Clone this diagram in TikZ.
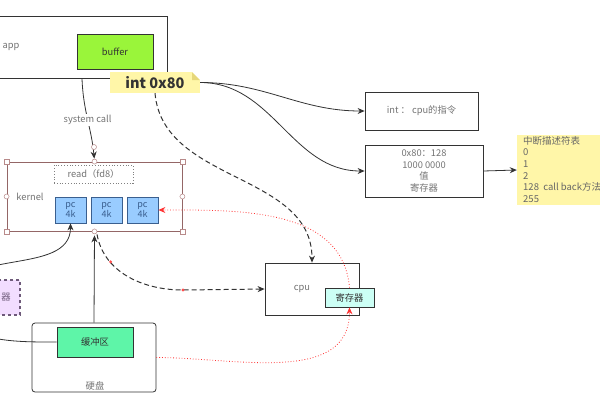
\documentclass[tikz,border=0pt]{standalone}
\usepackage{fontspec}
\setmainfont{Noto Sans CJK SC}
\usetikzlibrary{arrows.meta}

\definecolor{buffergreen}{HTML}{9AF53A}
\definecolor{notey}{HTML}{FFF6A8}
\definecolor{notefold}{HTML}{E6D77A}
\definecolor{pcblue}{HTML}{99CCFF}
\definecolor{pcedge}{HTML}{3A5F8F}
\definecolor{mint}{HTML}{5EF5A8}
\definecolor{regcyan}{HTML}{CCFFF5}
\definecolor{lilac}{HTML}{F2DDFF}
\definecolor{lilacedge}{HTML}{6E5A7A}
\definecolor{handle}{HTML}{B88A8A}
\definecolor{ink}{HTML}{333333}

\begin{document}
\begin{tikzpicture}[x=1pt,y=-1pt,
  box/.style={draw=ink,line width=0.8pt,inner sep=0pt,text=black!55,
    font=\fontsize{9.3}{11.7}\selectfont,align=center},
  pcbox/.style={box,fill=pcblue,draw=pcedge,minimum width=31pt,minimum height=26pt,
    text=pcedge,font=\fontsize{9}{10}\selectfont},
  label/.style={text=black!55,font=\fontsize{9.3}{11}\selectfont,inner sep=1pt},
  hsq/.style={draw=handle,fill=white,inner sep=0pt,minimum size=5pt,line width=0.5pt},
  hcirc/.style={hsq,circle},
  arr/.style={draw=ink,line width=0.8pt,-{Stealth[length=7pt,width=6pt]}},
  redarr/.style={draw=red!80,dotted,line width=0.8pt,-{Stealth[length=7pt,width=6pt]}},
  dasharr/.style={arr,dash pattern=on 5pt off 3pt,line width=1pt}]

\useasboundingbox (0,0) rectangle (600,400);
\clip (0,0) rectangle (600,400);

\node[box,minimum width=172pt,minimum height=62pt] (app) at (81,47) {};
\node[label] (applbl) at (11,47) {app};
\node[box,fill=buffergreen,minimum width=76pt,minimum height=35pt,text=ink] (buffer) at (115,51.5) {buffer};

\node[fill=notey,minimum width=90pt,minimum height=21pt,inner sep=0pt,
  font=\fontsize{14.5}{14.5}\selectfont\bfseries,text=black!80] (int) at (155,82.5) {int 0x80};
\fill[white] (200,72) -- (192,72) -- (200,80) -- cycle;
\fill[notefold] (192,72) -- (200,80) -- (192,80) -- cycle;

\node[box,minimum width=113pt,minimum height=38pt] (instr) at (421.5,111) {int ： cpu的指令};
\node[box,minimum width=118pt,minimum height=52pt] (reg) at (424,171) {0x80：128\\1000 0000\\值\\寄存器};
\node[fill=notey,minimum width=103pt,minimum height=70pt,inner sep=0pt] (idt) at (568.5,170) {};
\node[anchor=north west,align=left,inner sep=0pt,text=black!60,
  font=\fontsize{9.5}{11.6}\selectfont] (idttxt) at (523,136)
  {中断描述符表\\0\\1\\2\\128\ \ call back方法\\255};

\node[box,draw=black!70!red!60,minimum width=175pt,minimum height=69pt] (kernel) at (94.5,196.5) {};
\node[label] (kernlbl) at (30,197) {kernel};
\node[box,draw=black!50,dotted,line width=0.7pt,minimum width=79pt,minimum height=18pt] (read) at (93.5,174) {read（fd8）};
\node[pcbox] (pc1) at (70.5,210) {pc\\4k};
\node[pcbox] (pc2) at (106.5,210) {pc\\4k};
\node[pcbox] (pc3) at (142.5,210) {pc\\4k};

\node[box,minimum width=94pt,minimum height=52pt] (cpu) at (312,289) {};
\node[label] (cpulbl) at (302,289) {cpu};
\node[box,fill=regcyan,minimum width=49pt,minimum height=19pt,text=ink] (cpureg) at (349.5,297.5) {寄存器};

\node[box,draw=lilacedge,fill=lilac,dashed,line width=1.2pt,minimum width=60pt,minimum height=35pt] (lilacbox) at (-10,297.5) {};
\node[label,text=lilacedge] (lilaclbl) at (6,297) {器};

\node[box,rounded corners=3pt,minimum width=124pt,minimum height=69pt] (disk) at (94,357.5) {};
\node[label] (disklbl) at (95,386) {硬盘};
\node[box,fill=mint,minimum width=76pt,minimum height=30pt,text=ink] (buf2) at (95,342) {缓冲区};

\coordinate (bend) at (183,290);
\draw[arr] (int.east) to[out=0,in=180] (instr.west);
\draw[arr] (int.east) to[out=0,in=180] (reg.west);
\draw[arr] (reg.east) -- (idt.west);
\draw[dasharr] (int.south) to[out=-85,in=90] (cpu.north);
\draw[arr,shorten >=3pt] (app.south -| 82,0) to[out=-88,in=95]
  node[label,fill=white,pos=0.5] {system call} (kernel.north);
\node[hcirc] at (94,147) {};
\draw[arr,shorten >=4pt] (disk.north) -- (kernel.south);
\draw[dasharr,shorten <=3pt] ([xshift=2pt]kernel.south) to[out=-80,in=180]
  coordinate[pos=0.3] (dot) (bend) -- (cpu.west);
\fill[red!70] (dot) circle (1.6pt) (bend) circle (1.6pt);
\draw[arr] (buf2.west) to[out=180,in=-90] (-45,300) to[out=90,in=-90] (pc1.south);
\draw[redarr] (disk.east) to[out=0,in=-90] (cpureg.south);
\draw[redarr] (cpureg.north) to[out=95,in=0] (pc3.east);

\foreach \a in {north west,north east,south west,south east}
  \node[hsq] at (kernel.\a) {};
\foreach \a in {north,south,east,west}
  \node[hcirc] at (kernel.\a) {};
\end{tikzpicture}
\end{document}
